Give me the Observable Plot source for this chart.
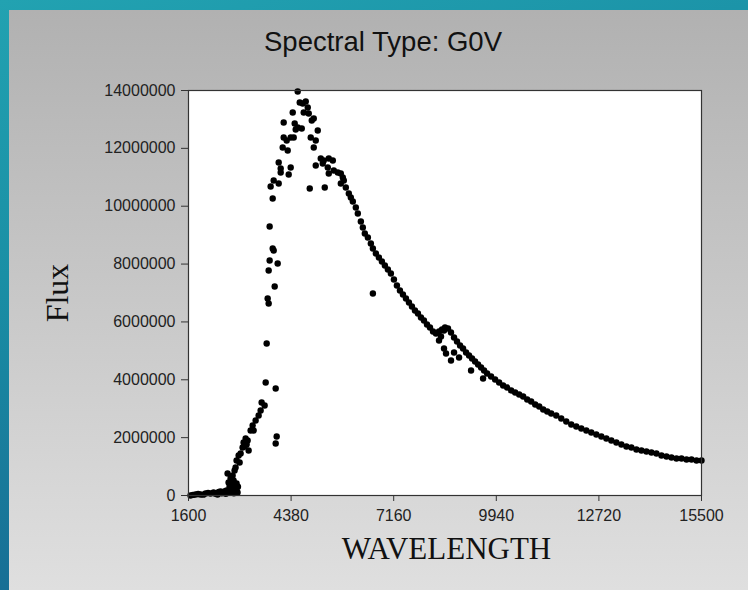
<!DOCTYPE html>
<html><head><meta charset="utf-8">
<script src="https://cdn.jsdelivr.net/npm/d3@7"></script>
<script src="https://cdn.jsdelivr.net/npm/@observablehq/plot@0.6"></script>
<style>
body{margin:0;}
#wrap{position:relative;width:748px;height:590px;overflow:hidden;background:linear-gradient(165deg,#22a2b1 0%,#1a8fa5 35%,#155a8b 100%);}
#panel{position:absolute;left:9px;top:10px;right:0;bottom:0;background:linear-gradient(to bottom,#b1b1b1,#dfdfdf);}
#chart{position:absolute;left:0;top:0;}
</style></head><body>
<div id="wrap"><div id="panel"></div><div id="chart"></div></div>
<script>
const titleText = "Spectral Type: G0V";
const xLabel = "WAVELENGTH";
const yLabel = "Flux";
const xTicks = [1600, 4380, 7160, 9940, 12720, 15500];
const yTicks = [0, 2000000, 4000000, 6000000, 8000000, 10000000, 12000000, 14000000];

// rising part (wavelength, flux)
const riseWavelength = [1654,1720,1790,1860,1926,2000,2062,2130,2197,2279,2330,2387,2420,2469,2500,2550,2590,2632,2659,2686,2700,2713,2740,2767,2780,2795,2822,2830,2849,2876,2876,2900,2903,2903,2930,2958,2985,3012,3066,3093,3120,3148,3175,3202,3229,3283,3338,3365,3419,3501,3555,3582,3663,3691,3962,3989,3962,2610,2720,2860,2940];
const riseFlux = [0,20000,35000,50000,35000,30000,69000,90000,69000,104000,60000,35000,120000,138000,80000,104000,150000,173000,760000,449000,90000,311000,588000,173000,350000,691000,519000,80000,864000,277000,968000,240000,1210000,415000,104000,1383000,1141000,1452000,1659000,1832000,1694000,1970000,1763000,1901000,1556000,2247000,2420000,2247000,2593000,2765000,2938000,3215000,3111000,3906000,3699000,2040000,1798000,60000,220000,130000,300000];

// peak region
const peakWavelength = [3718,3745,3772,3772,3935,3799,4016,3881,3908,3799,3881,3826,3908,4044,4044,4098,4098,4369,4315,4152,4179,4261,4288,4369,4451,4179,4424,4478,4559,4505,4668,4559,4614,4695,4777,4831,4722,4858,4940,4994,4912,5102,5048,4994,4885,5048,5292,5184,5265,5401,5510,5238,5374,5401,5537,5645,5727,5781,5808,5727,5863,6596];
const peakFlux = [5254000,6810000,6637000,7778000,7225000,8123000,8020000,8538000,8469000,9299000,10267000,10682000,10889000,10785000,11511000,11304000,11165000,11338000,11096000,12030000,12375000,12272000,11926000,12375000,12375000,12894000,13240000,12859000,12721000,12652000,12686000,13965000,13585000,13551000,13620000,13412000,13240000,13205000,12963000,13032000,12375000,12617000,12272000,12030000,10612000,11407000,10647000,11649000,11580000,11649000,11580000,11477000,11338000,11131000,11235000,11165000,11131000,10993000,10889000,10785000,10647000,6983000];

// declining tail
const tailWavelength = [5944,5998,6053,6134,6188,6270,6324,6378,6460,6541,6596,6677,6759,6840,6921,7003,7084,7166,7247,7329,7410,7492,7573,7654,7736,7817,7899,7980,8062,8143,8225,8306,8388,8469,8550,8632,8713,8795,8876,8958,9039,9121,9202,9283,9365,9446,9528,9609,9691,9799,9908,10017,10125,10234,10342,10451,10560,10668,10777,10885,10994,11103,11211,11320,11428,11564,11700,11836,11971,12107,12243,12379,12514,12650,12786,12922,13057,13193,13329,13465,13600,13736,13872,14008,14143,14279,14415,14551,14686,14822,14958,15094,15229,15365,15500];
const tailFlux = [10440000,10301000,10163000,9956000,9748000,9472000,9264000,9057000,8919000,8711000,8538000,8365000,8227000,8089000,7951000,7812000,7674000,7467000,7259000,7086000,6948000,6810000,6672000,6533000,6395000,6291000,6153000,6049000,5911000,5807000,5669000,5600000,5669000,5738000,5807000,5773000,5635000,5462000,5323000,5185000,5082000,4943000,4840000,4736000,4632000,4528000,4425000,4321000,4217000,4114000,4010000,3906000,3802000,3733000,3630000,3561000,3491000,3422000,3319000,3249000,3146000,3077000,2973000,2904000,2835000,2765000,2662000,2558000,2454000,2385000,2316000,2247000,2178000,2109000,2040000,1970000,1901000,1832000,1763000,1694000,1659000,1590000,1556000,1521000,1486000,1452000,1383000,1348000,1314000,1279000,1279000,1244000,1244000,1210000,1210000];

// scattered points below the 8500 bump
const bumpWavelength = [8523,8578,8795,8713,8931,9256,9582,8388,8442,8523];
const bumpFlux = [5082000,4909000,4943000,4667000,4770000,4321000,4044000,5358000,5496000,5704000];

const points = [];
function add(ws, fs){ ws.forEach((w,i)=>points.push({w, f: fs[i]})); }
add(riseWavelength, riseFlux);
add(peakWavelength, peakFlux);
add(tailWavelength, tailFlux);
add(bumpWavelength, bumpFlux);

const fmt = d => String(d);

const chart = Plot.plot({
  width: 748, height: 590,
  marginLeft: 188, marginRight: 47, marginTop: 90, marginBottom: 95,
  style: {background: "transparent", fontFamily: "'Liberation Sans', Arial, sans-serif", fontSize: "16px", color: "#222", overflow: "visible"},
  x: {domain: [1600, 15500]},
  y: {domain: [0, 14000000]},
  marks: [
    Plot.frame({fill: "white"}),
    Plot.dot(points, {x: "w", y: "f", r: 3.2, fill: "#000", stroke: null}),
    Plot.frame({stroke: "#333", strokeWidth: 1.2}),
    Plot.axisX({ticks: xTicks, tickFormat: fmt, tickSize: 6, tickPadding: 8, label: null, fontSize: 16, stroke: "#333"}),
    Plot.axisY({ticks: yTicks, tickFormat: fmt, tickSize: 7, tickPadding: 6, label: null, fontSize: 16, stroke: "#333"}),
    Plot.text([titleText], {frameAnchor: "top", lineAnchor: "middle", textAnchor: "middle", dx: -62, dy: -48, fontSize: 27.5, fontFamily: "'Liberation Sans', Arial, sans-serif", fill: "#111"}),
    Plot.text([xLabel], {frameAnchor: "bottom", lineAnchor: "middle", textAnchor: "middle", dx: 1.5, dy: 54, fontSize: 31, fontFamily: "'Liberation Serif', 'Times New Roman', serif", fill: "#111"}),
    Plot.text([yLabel], {frameAnchor: "left", lineAnchor: "middle", textAnchor: "middle", dx: -131, rotate: -90, fontSize: 32, fontFamily: "'Liberation Serif', 'Times New Roman', serif", fill: "#111"})
  ]
});
document.getElementById("chart").appendChild(chart);
</script>
</body></html>
